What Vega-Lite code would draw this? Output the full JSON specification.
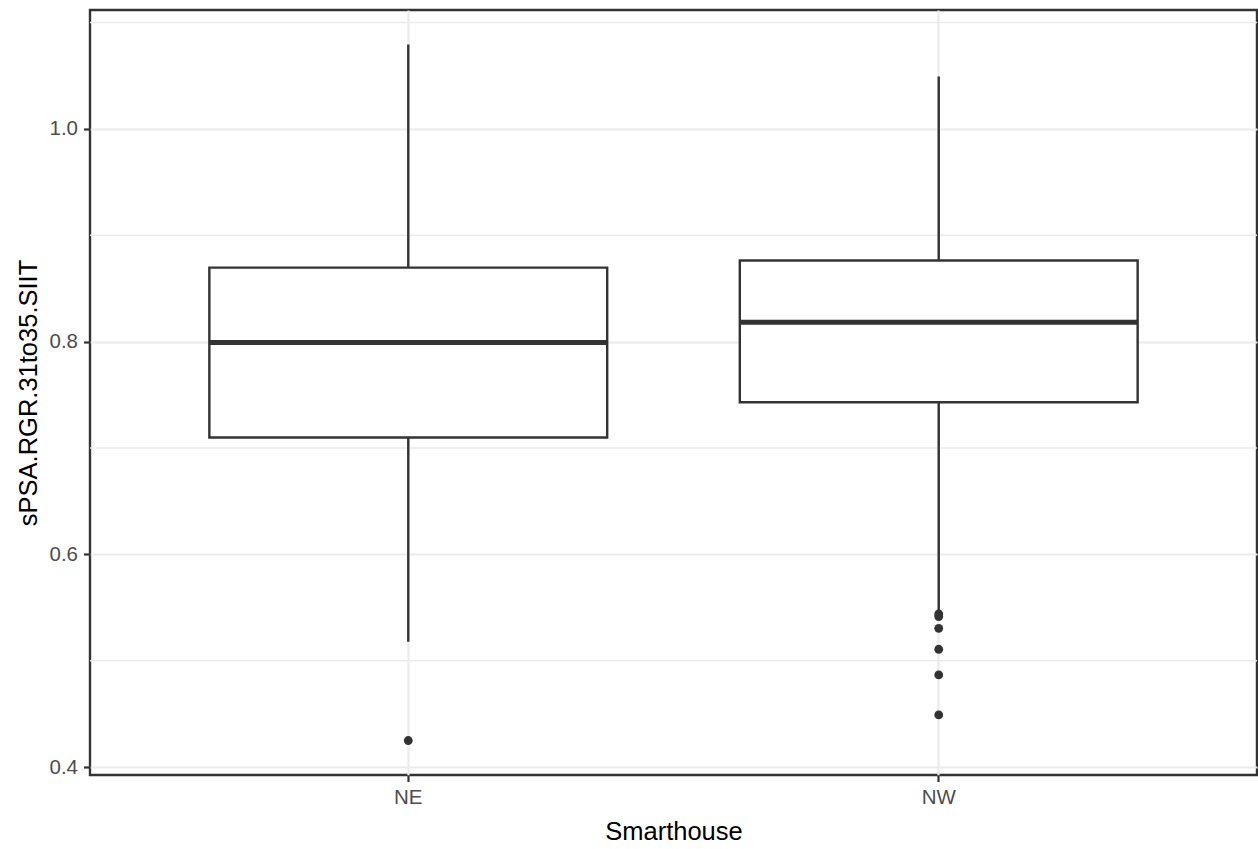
{
  "$schema": "https://vega.github.io/schema/vega-lite/v6.json",
  "width": 1167,
  "height": 765,
  "autosize": {"type": "none"},
  "padding": {"left": 90, "top": 10, "right": 1, "bottom": 74},
  "background": "white",
  "config": {
    "view": {"stroke": "#333333", "strokeWidth": 2.4},
    "font": "Liberation Sans",
    "axis": {
      "domain": false,
      "grid": true,
      "gridColor": "#EBEBEB",
      "gridWidth": 2.2,
      "ticks": true,
      "tickColor": "#333333",
      "tickWidth": 2.2,
      "tickSize": 6.5,
      "labelColor": "#4D4D4D",
      "labelFontSize": 20.5,
      "labelFont": "Liberation Sans",
      "titleFont": "Liberation Sans",
      "titleFontSize": 25.5,
      "titleFontWeight": "normal",
      "titleColor": "#000000"
    }
  },
  "datasets": {
    "summary": [
      {"Smarthouse": "NE", "lower": 0.5179, "q1": 0.7099, "median": 0.7991, "q3": 0.8695, "upper": 1.0792},
      {"Smarthouse": "NW", "lower": 0.5461, "q1": 0.7430, "median": 0.8181, "q3": 0.8763, "upper": 1.0491}
    ],
    "outliers": [
      {"Smarthouse": "NE", "value": 0.4250},
      {"Smarthouse": "NW", "value": 0.5440},
      {"Smarthouse": "NW", "value": 0.5415},
      {"Smarthouse": "NW", "value": 0.5305},
      {"Smarthouse": "NW", "value": 0.5108},
      {"Smarthouse": "NW", "value": 0.4867},
      {"Smarthouse": "NW", "value": 0.4491}
    ],
    "minor": [
      {"value": 0.5}, {"value": 0.7}, {"value": 0.9}, {"value": 1.1}
    ]
  },
  "layer": [
    {
      "data": {"name": "minor"},
      "mark": {"type": "rule", "color": "#EBEBEB", "strokeWidth": 1.4},
      "encoding": {
        "y": {
          "field": "value",
          "type": "quantitative",
          "title": "sPSA.RGR.31to35.SIIT",
          "scale": {"domain": [0.3926, 1.1117], "nice": false, "zero": false},
          "axis": {"values": [0.4, 0.6, 0.8, 1.0], "format": ".1f", "labelPadding": 6, "titlePadding": 8}
        }
      }
    },
    {
      "data": {"name": "summary"},
      "mark": {"type": "rule", "color": "#333333", "strokeWidth": 2.4},
      "encoding": {
        "x": {
          "field": "Smarthouse",
          "type": "nominal",
          "title": "Smarthouse",
          "scale": {"type": "band", "domain": ["NE", "NW"], "paddingInner": 0.25, "paddingOuter": 0.225},
          "axis": {"labelAngle": 0, "bandPosition": 0.5, "labelPadding": 6, "titlePadding": 11}
        },
        "y": {"field": "lower", "type": "quantitative", "title": "sPSA.RGR.31to35.SIIT"},
        "y2": {"field": "upper"}
      }
    },
    {
      "data": {"name": "summary"},
      "mark": {"type": "bar", "fill": "white", "stroke": "#333333", "strokeWidth": 2.4},
      "encoding": {
        "x": {"field": "Smarthouse", "type": "nominal", "title": "Smarthouse"},
        "y": {"field": "q1", "type": "quantitative", "title": "sPSA.RGR.31to35.SIIT"},
        "y2": {"field": "q3"}
      }
    },
    {
      "data": {"name": "summary"},
      "mark": {"type": "tick", "color": "#333333", "size": 398, "thickness": 5, "opacity": 1},
      "encoding": {
        "x": {"field": "Smarthouse", "type": "nominal", "title": "Smarthouse"},
        "y": {"field": "median", "type": "quantitative", "title": "sPSA.RGR.31to35.SIIT"}
      }
    },
    {
      "data": {"name": "outliers"},
      "mark": {"type": "circle", "color": "#333333", "size": 78, "opacity": 1},
      "encoding": {
        "x": {"field": "Smarthouse", "type": "nominal", "title": "Smarthouse"},
        "y": {"field": "value", "type": "quantitative", "title": "sPSA.RGR.31to35.SIIT"}
      }
    }
  ]
}
